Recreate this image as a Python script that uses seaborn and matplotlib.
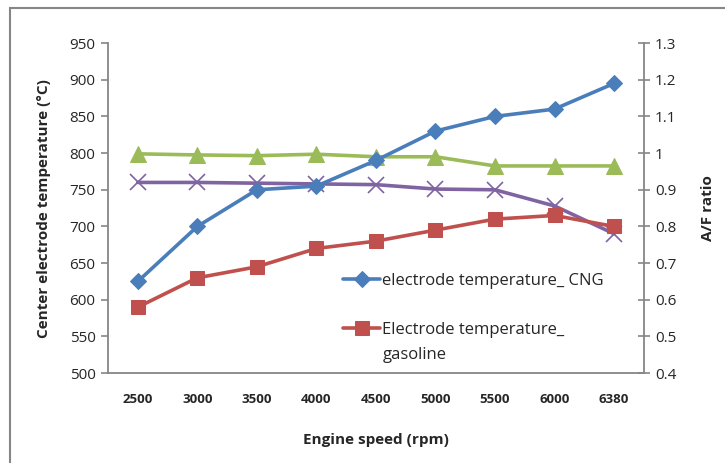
import pandas as pd
import matplotlib
matplotlib.use("Agg")
import matplotlib.pyplot as plt
from matplotlib.patches import Rectangle
import seaborn as sns

sns.set_theme(style="white")
plt.rcParams['font.family'] = ['Open Sans', 'DejaVu Sans']

## Data ##

speeds = ["2500", "3000", "3500", "4000", "4500", "5000", "5500", "6000", "6380"]
temp_cng = [625, 700, 750, 755, 790, 830, 850, 860, 895]
temp_gasoline = [590, 630, 645, 670, 680, 695, 710, 715, 700]
af_green = [0.998, 0.995, 0.993, 0.997, 0.99, 0.99, 0.965, 0.965, 0.965]
af_purple = [0.92, 0.92, 0.918, 0.916, 0.914, 0.902, 0.90, 0.856, 0.78]

left_ticks = [500, 550, 600, 650, 700, 750, 800, 850, 900, 950]
right_ticks = [0.4, 0.5, 0.6, 0.7, 0.8, 0.9, 1.0, 1.1, 1.2, 1.3]
right_labels = ["0.4", "0.5", "0.6", "0.7", "0.8", "0.9", "1", "1.1", "1.2", "1.3"]

df = pd.DataFrame({
    'pos': range(len(speeds)),
    'cng': temp_cng,
    'gas': temp_gasoline,
    'green': af_green,
    'purple': af_purple,
})

blue = "#4a7ebb"
red = "#c0504d"
green = "#9bbb59"
purple = "#8064a2"
axis_grey = "#868686"

fig = plt.figure(figsize=(7.25, 4.63), dpi=100)
ax = fig.add_axes([0.149, 0.194, 0.739, 0.713])
ax2 = ax.twinx()

# right axis series (drawn below)
sns.lineplot(data=df, x='pos', y='green', ax=ax2, color=green, lw=2.6,
             marker='^', markersize=11, markeredgecolor=green, label='_g')
sns.lineplot(data=df, x='pos', y='purple', ax=ax2, color=purple, lw=2.6,
             marker='x', markersize=11, markeredgewidth=1.2,
             markeredgecolor=purple, label='_p')

# left axis series
sns.lineplot(data=df, x='pos', y='cng', ax=ax, color=blue, lw=2.6,
             marker='D', markersize=8.5, markeredgecolor=blue,
             label='electrode temperature_ CNG')
sns.lineplot(data=df, x='pos', y='gas', ax=ax, color=red, lw=2.6,
             marker='s', markersize=10, markeredgecolor=red,
             label='Electrode temperature_')

ax.set_zorder(ax2.get_zorder() + 1)
ax.patch.set_visible(False)

ax.set_xlim(-0.5, len(speeds) - 0.5)
ax.set_ylim(500, 950)
ax2.set_ylim(0.4, 1.3)
ax.set_yticks(left_ticks)
ax.set_yticklabels([str(t) for t in left_ticks], fontsize=11)
ax2.set_yticks(right_ticks)
ax2.set_yticklabels(right_labels, fontsize=11)

ax.set_xticks([i + 0.5 for i in range(-1, len(speeds))])
ax.set_xticklabels([])
ax.set_xticks(range(len(speeds)), minor=True)
ax.set_xticklabels(speeds, minor=True, fontsize=9.5, fontweight='bold')
ax.tick_params(axis='x', which='major', direction='out', length=5,
               color=axis_grey, width=1.2)
ax.tick_params(axis='x', which='minor', length=0, pad=14)
ax.tick_params(axis='y', direction='out', length=5, color=axis_grey,
               width=1.2, pad=4)
ax2.tick_params(axis='y', direction='inout', length=8, color=axis_grey,
                width=1.2, pad=4)

for a in (ax, ax2):
    a.spines['top'].set_visible(False)
    for s in ('left', 'right', 'bottom'):
        a.spines[s].set_color(axis_grey)
        a.spines[s].set_linewidth(1.3)
ax.spines['right'].set_visible(False)
ax2.spines['left'].set_visible(False)
ax2.spines['bottom'].set_visible(False)

ax.set_xlabel("Engine speed (rpm)", fontsize=11, fontweight='bold', labelpad=20)
ax.set_ylabel("Center electrode temperature (°C)", fontsize=11,
              fontweight='bold', labelpad=13)
ax2.set_ylabel("A/F ratio", fontsize=11, fontweight='bold', labelpad=18)

ax.legend(loc='upper left', bbox_to_anchor=(0.427, 0.325), frameon=False,
          fontsize=12, handlelength=2.2, handletextpad=0.12,
          labelspacing=2.0, borderaxespad=0)
if ax2.get_legend() is not None:
    ax2.get_legend().remove()
# second line of the gasoline legend label
ax.text(0.513, 0.055, "gasoline", transform=ax.transAxes, fontsize=12,
        ha='left', va='center', color='#262626')

fig.patches.append(Rectangle((10 / 725, -0.1), 1.2, 1 - 8 / 463 + 0.1,
                             transform=fig.transFigure, fill=False,
                             edgecolor=axis_grey, lw=1.5))

plt.savefig("out.png", dpi=100)
